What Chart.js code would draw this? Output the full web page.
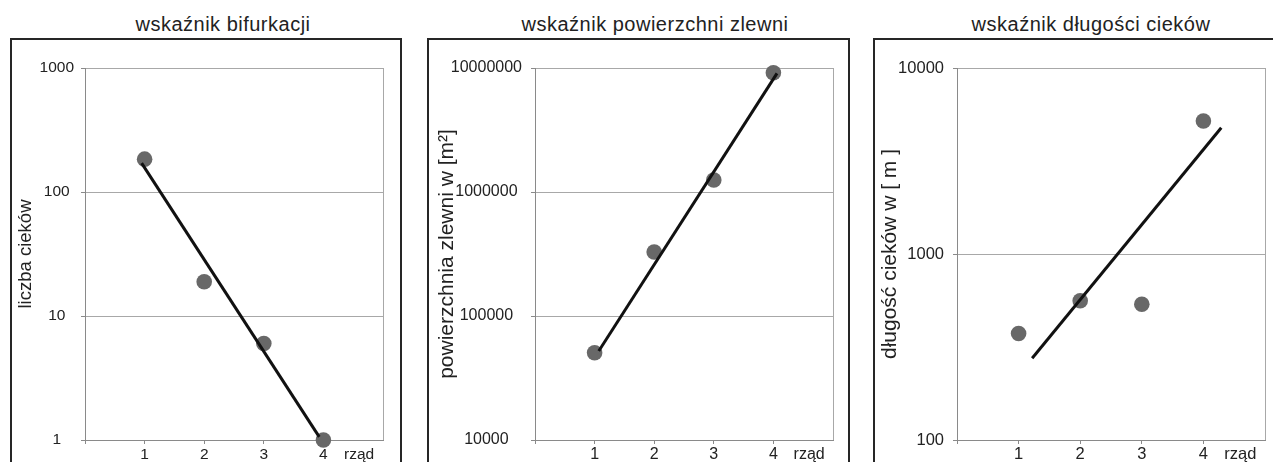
<!DOCTYPE html>
<html>
<head>
<meta charset="utf-8">
<script src="https://cdn.jsdelivr.net/npm/chart.js@4"></script>
<style>
    body { margin: 0; width: 1273px; height: 462px; overflow: hidden; background: #fff; position: relative;
           font-family: "Liberation Sans", Arial, sans-serif; color: #222; }
    .title { position: absolute; top: 12px; width: 400px; height: 24px; line-height: 24px; font-size: 20px;
             letter-spacing: 0.5px; text-align: center; }
    .frame { position: absolute; top: 38px; height: 480px; border: 2px solid #262626; box-sizing: border-box; pointer-events: none; }
    canvas { position: absolute; top: 40px; }
</style>
</head>
<body>
<div class="title" style="left: 23px;">wskaźnik bifurkacji</div>
<div class="title" style="left: 455px;">wskaźnik powierzchni zlewni</div>
<div class="title" style="left: 891px;">wskaźnik długości cieków</div>

<canvas id="bifurcation" width="388" height="422" style="left: 12px;"></canvas>
<canvas id="area" width="419" height="422" style="left: 429px;"></canvas>
<canvas id="length" width="398" height="422" style="left: 875px;"></canvas>

<div class="frame" style="left: 10px; width: 392px;"></div>
<div class="frame" style="left: 427px; width: 423px;"></div>
<div class="frame" style="left: 873px; width: 403px;"></div>

<script>
    // rząd (stream order)
    const orders = [1, 2, 3, 4];
    const xTicks = [0, 1, 2, 3, 4];
    const xAxisTitle = "rząd";

    // liczba cieków
    const bifurcationCounts = [184, 18.9, 6, 1];
    const bifurcationTrendX = [0.95, 3.93];
    const bifurcationTrendY = [171, 1.06];
    const bifurcationTicks = [1, 10, 100, 1000];

    // powierzchnia zlewni [m2]
    const areaValues = [50600, 328000, 1250000, 9160000];
    const areaTrendX = [1.07, 4.06];
    const areaTrendY = [52200, 9060000];
    const areaTicks = [10000, 100000, 1000000, 10000000];

    // długość cieków [m]
    const lengthValues = [374, 561, 537, 5190];
    const lengthTrendX = [1.22, 4.29];
    const lengthTrendY = [275, 4775];
    const lengthTicks = [100, 1000, 10000];

    const X_LABEL_AT = 4.6;
    const AXIS = "#8a8a8a";
    const GRID = "#a8a8a8";
    const TEXT = "#222";

    Chart.defaults.font.family = '"Liberation Sans", Arial, sans-serif';

    // thin grey line closing the plot area on the right
    const plotFrame = {
        id: "plotFrame",
        beforeDatasetsDraw(chart){
            const { ctx, chartArea: a } = chart;
            ctx.save();
            ctx.strokeStyle = GRID;
            ctx.lineWidth = 1;
            ctx.beginPath();
            ctx.moveTo(Math.round(a.right) + 0.5, a.top);
            ctx.lineTo(Math.round(a.right) + 0.5, a.bottom);
            ctx.stroke();
            ctx.restore();
        }
    };

    function makeChart(id, values, trendX, trendY, yTicks, yTitle, box){
        const canvas = document.getElementById(id);
        return new Chart(canvas, {
            type: "scatter",
            data: {
                datasets: [{
                    data: trendX.map((x, i) => ({ x: x, y: trendY[i] })),
                    showLine: true,
                    borderColor: "#111",
                    borderWidth: 3,
                    pointRadius: 0,
                    clip: false
                }, {
                    data: orders.map((x, i) => ({ x: x, y: values[i] })),
                    backgroundColor: "#686868",
                    borderWidth: 0,
                    pointRadius: 7.8,
                    clip: false
                }]
            },
            options: {
                responsive: false,
                animation: false,
                events: [],
                layout: { padding: { left: 0, right: canvas.width - box.right, top: 28, bottom: 0 } },
                plugins: { legend: { display: false }, tooltip: { enabled: false }, title: { display: false } },
                scales: {
                    x: {
                        type: "linear",
                        min: 0,
                        max: 5,
                        afterBuildTicks: s => { s.ticks = xTicks.concat([X_LABEL_AT]).map(v => ({ value: v })); },
                        afterFit: s => { s.height = 22; },
                        ticks: {
                            autoSkip: false,
                            maxRotation: 0,
                            padding: 1,
                            color: TEXT,
                            font: { size: box.tickSize },
                            callback: v => v === 0 ? "" : (v === X_LABEL_AT ? xAxisTitle : String(v))
                        },
                        grid: {
                            drawOnChartArea: false,
                            tickLength: 4,
                            tickColor: c => (c.tick && c.tick.value === X_LABEL_AT) ? "rgba(0,0,0,0)" : AXIS
                        },
                        border: { color: AXIS }
                    },
                    y: {
                        type: "logarithmic",
                        min: yTicks[0],
                        max: yTicks[yTicks.length - 1],
                        afterBuildTicks: s => { s.ticks = yTicks.map(v => ({ value: v })); },
                        afterFit: s => { s.width = box.left; },
                        ticks: {
                            crossAlign: box.align,
                            padding: box.tickPad,
                            color: TEXT,
                            font: { size: box.tickSize },
                            callback: v => String(v)
                        },
                        grid: { color: GRID, tickLength: 4, tickColor: AXIS },
                        border: { color: AXIS },
                        title: {
                            display: true,
                            text: yTitle,
                            color: TEXT,
                            font: { size: box.titleSize },
                            padding: { top: box.titlePad, bottom: 0 }
                        }
                    }
                }
            },
            plugins: [plotFrame]
        });
    }

    makeChart("bifurcation", bifurcationCounts, bifurcationTrendX, bifurcationTrendY, bifurcationTicks,
        "liczba cieków",
        { left: 73, right: 371, align: "center", tickPad: 7, tickSize: 15.5, titleSize: 18.5, titlePad: 3 });
    makeChart("area", areaValues, areaTrendX, areaTrendY, areaTicks,
        "powierzchnia zlewni w [m²]",
        { left: 106, right: 404, align: "center", tickPad: 9, tickSize: 16, titleSize: 21, titlePad: 6 });
    makeChart("length", lengthValues, lengthTrendX, lengthTrendY, lengthTicks,
        "długość cieków w [ m ]",
        { left: 82, right: 390, align: "near", tickPad: 9, tickSize: 16.5, titleSize: 21, titlePad: 3 });
</script>
</body>
</html>
